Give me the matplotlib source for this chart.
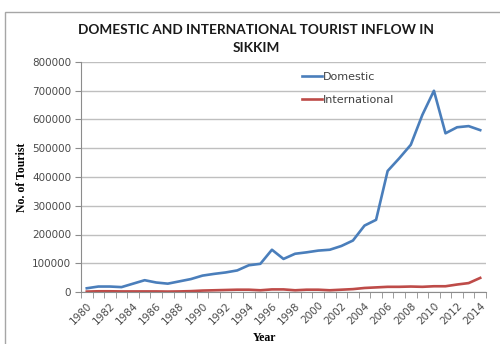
import matplotlib
matplotlib.use("Agg")
import matplotlib.pyplot as plt
from matplotlib.patches import Rectangle

years = list(range(1980, 2015))
domestic = [13000, 19000, 19000, 17000, 29000, 41000, 33000, 29000, 37000, 45000,
            57000, 63000, 68000, 75000, 93000, 98000, 147000, 115000, 133000, 138000,
            144000, 147000, 160000, 179000, 231000, 251000, 421000, 465000, 512000, 616000,
            700000, 552000, 573000, 577000, 563000]
international = [1500, 2500, 2500, 2000, 2000, 2000, 2000, 1500, 2000, 3000,
                 5000, 6000, 7000, 8000, 8000, 6000, 9000, 9000, 6000, 8000,
                 8000, 6000, 8000, 10000, 14000, 16000, 18000, 18000, 19000, 18000,
                 20000, 20000, 26000, 31000, 49000]

fig = plt.figure(figsize=(5.0, 3.44), dpi=100)
fig.patches.append(Rectangle((5/500, -0.1), 1.2, 1 - 12/344 + 0.1, transform=fig.transFigure,
                             fill=False, edgecolor="#a6a6a6", linewidth=1.0))

ax = fig.add_axes([81/500, 1 - 292/344, (486 - 81)/500, (292 - 62)/344])
x = list(range(len(years)))
ax.plot(x, domestic, color="#4a7ebb", linewidth=1.9, label="Domestic")
ax.plot(x, international, color="#be4b48", linewidth=1.9, label="International")

ax.set_xlim(-0.5, len(years) - 0.5)
ax.set_ylim(0, 800000)
ax.set_yticks(range(0, 800001, 100000))
ax.set_yticklabels([str(v) for v in range(0, 800001, 100000)])
ax.yaxis.grid(True, color="#bfbfbf", linewidth=1.0)
ax.set_axisbelow(True)

ax.set_xticks([i - 0.5 for i in range(len(years) + 1)], minor=True)
ax.set_xticks(x[::2])
ax.set_xticklabels([str(y) for y in years[::2]], rotation=45, ha="right", va="top",
                   rotation_mode="anchor")
ax.tick_params(axis="x", which="major", length=0, pad=6, labelsize=7.5, labelcolor="#4a4a4a")
ax.tick_params(axis="x", which="minor", length=4, color="#8c8c8c", direction="out")
ax.tick_params(axis="y", length=4, color="#8c8c8c", labelsize=7.5, labelcolor="#4a4a4a", pad=3)

for s in ["top", "right"]:
    ax.spines[s].set_visible(False)
ax.spines["left"].set_color("#8c8c8c")
ax.spines["bottom"].set_color("#8c8c8c")

ax.legend(loc="upper left", bbox_to_anchor=(0.52, 1.0), frameon=False, fontsize=8,
          handlelength=1.8, handletextpad=0.1, labelspacing=1.2,
          labelcolor="#404040")

fig.text(0.512, 1 - 39/344, "DOMESTIC AND INTERNATIONAL TOURIST INFLOW IN\nSIKKIM",
         ha="center", va="center", fontsize=9.8, fontweight="bold", family="Lato",
         linespacing=1.55, color="#1a1a1a")
fig.text(22/500, 1 - 177/344, "No. of Tourist", rotation=90, ha="center", va="center",
         fontsize=8.5, fontweight="bold", family="Liberation Serif")
fig.text(265/500, 1 - 338/344, "Year", ha="center", va="center",
         fontsize=8.5, fontweight="bold", family="Liberation Serif")

fig.savefig("out.png", dpi=100)
